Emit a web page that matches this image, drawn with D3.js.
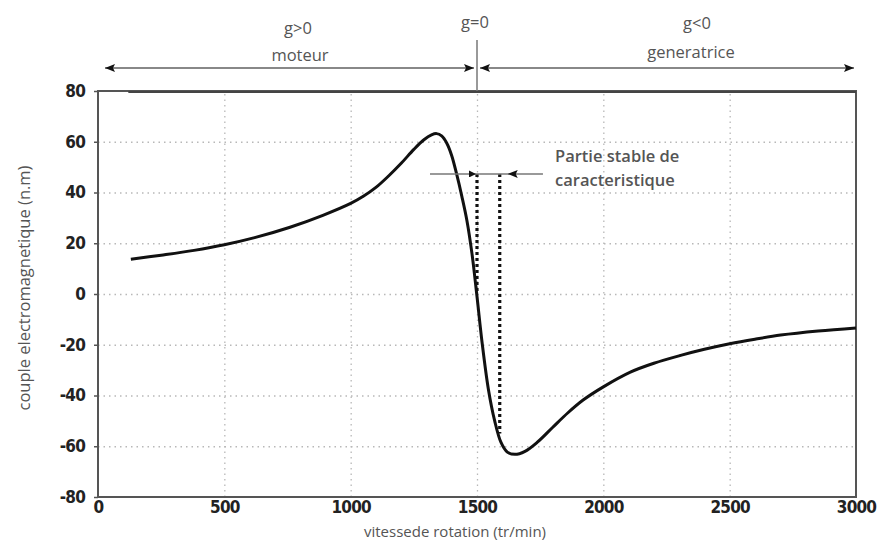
<!DOCTYPE html>
<html>
<head>
<meta charset="utf-8">
<script src="https://cdn.jsdelivr.net/npm/d3@7"></script>
<style>
  body { margin: 0; background: #fff; }
  svg { display: block; }
  .tick text { font-family: "DejaVu Sans", sans-serif; font-stretch: condensed; font-weight: bold; fill: #222; }
  .note { font-family: "Open Sans", "Noto Sans", sans-serif; fill: #555; }
</style>
</head>
<body>
<svg width="880" height="542"></svg>
<script>
// vitesse (tr/min) et couple (n.m)
const speed = [130, 250, 380, 500, 620, 760, 890, 1000, 1050, 1100, 1150, 1200, 1250, 1290, 1320, 1340, 1360, 1380, 1400, 1420, 1440, 1460, 1480, 1500, 1520, 1545, 1570, 1595, 1620, 1650, 1690, 1740, 1800, 1860, 1920, 2000, 2107, 2200, 2306, 2400, 2500, 2600, 2702, 2850, 3000];
const torque = [13.7, 15.3, 17.2, 19.4, 22.2, 26.3, 31, 35.7, 38.5, 42, 46.5, 51.5, 57, 60.8, 62.7, 63.2, 62.3, 59.5, 54.5, 47, 38.5, 29, 16, -1, -19, -37.5, -50, -58.5, -62.3, -63.2, -62, -58.3, -52.5, -46.8, -41.8, -36.6, -30.8, -27.3, -24.2, -21.8, -19.6, -17.8, -16.2, -14.6, -13.4];

const xTicks = [0, 500, 1000, 1500, 2000, 2500, 3000];
const yTicks = [-80, -60, -40, -20, 0, 20, 40, 60, 80];

// zone stable : entre g=0 et le couple max generateur
const stableSpeeds = [1500, 1590];
const stableTorque = [47.3, 0, -55];

const svg = d3.select('svg');
const x = d3.scaleLinear().domain([0, 3000]).range([98, 856]);
const y = d3.scaleLinear().domain([-80, 80]).range([497, 91]);

const defs = svg.append('defs');
defs.append('marker')
  .attr('id', 'arr')
  .attr('viewBox', '0 0 10 10')
  .attr('refX', 10).attr('refY', 5)
  .attr('markerWidth', 10).attr('markerHeight', 7)
  .attr('markerUnits', 'userSpaceOnUse')
  .attr('orient', 'auto-start-reverse')
  .append('path').attr('d', 'M0,0 L10,5 L0,10 z').attr('fill', '#111');
defs.append('marker')
  .attr('id', 'arrBig')
  .attr('viewBox', '0 0 10 10')
  .attr('refX', 10).attr('refY', 5)
  .attr('markerWidth', 20).attr('markerHeight', 10)
  .attr('markerUnits', 'userSpaceOnUse')
  .attr('orient', 'auto-start-reverse')
  .append('path').attr('d', 'M0,1 L10,5 L0,9 L2,5 z').attr('fill', '#111');

// grille
svg.append('g')
  .attr('transform', `translate(0,${y(-80)})`)
  .call(d3.axisBottom(x).tickValues(xTicks.slice(1, -1)).tickSize(-(y(-80) - y(80))).tickFormat(''))
  .call(g => g.select('.domain').remove())
  .call(g => g.selectAll('line').attr('stroke', '#b8b8b8').attr('stroke-width', 1.3).attr('stroke-dasharray', '1.5,4'));

svg.append('g')
  .attr('transform', `translate(${x(0)},0)`)
  .call(d3.axisLeft(y).tickValues(yTicks.slice(1, -1)).tickSize(-(x(3000) - x(0))).tickFormat(''))
  .call(g => g.select('.domain').remove())
  .call(g => g.selectAll('line').attr('stroke', '#b8b8b8').attr('stroke-width', 1.3).attr('stroke-dasharray', '1.5,4'));

// axes
const fmt = d => String(d);
const xAxis = svg.append('g')
  .attr('transform', `translate(0,${y(-80)})`)
  .call(d3.axisBottom(x).tickValues(xTicks).tickFormat(fmt).tickSize(0).tickPadding(4));
xAxis.select('.domain').remove();
xAxis.selectAll('text').style('font-size', '17px').attr('letter-spacing', '-0.8');

const yAxis = svg.append('g')
  .attr('transform', `translate(${x(0)},0)`)
  .call(d3.axisLeft(y).tickValues(yTicks).tickFormat(fmt).tickSize(4).tickPadding(9));
yAxis.select('.domain').remove();
yAxis.selectAll('line').attr('stroke', '#555').attr('stroke-width', 1.5);
yAxis.selectAll('text').style('font-size', '17px').attr('letter-spacing', '-0.8');

// cadre
svg.append('rect')
  .attr('x', x(0)).attr('y', y(80))
  .attr('width', x(3000) - x(0)).attr('height', y(-80) - y(80))
  .attr('fill', 'none').attr('stroke', '#555').attr('stroke-width', 2);
svg.append('line')
  .attr('x1', x(120)).attr('x2', x(3000))
  .attr('y1', y(80) + 1).attr('y2', y(80) + 1)
  .attr('stroke', '#444').attr('stroke-width', 2);

// lignes pointillees de la partie stable
svg.append('line')
  .attr('x1', x(stableSpeeds[0])).attr('x2', x(stableSpeeds[0]))
  .attr('y1', y(stableTorque[0])).attr('y2', y(stableTorque[1]))
  .attr('stroke', '#111').attr('stroke-width', 3.2).attr('stroke-dasharray', '3,3');
svg.append('line')
  .attr('x1', x(stableSpeeds[1])).attr('x2', x(stableSpeeds[1]))
  .attr('y1', y(stableTorque[0])).attr('y2', y(stableTorque[2]))
  .attr('stroke', '#111').attr('stroke-width', 3.2).attr('stroke-dasharray', '3,3');

// courbe
const line = d3.line()
  .x((d, i) => x(speed[i]))
  .y((d, i) => y(torque[i]))
  .curve(d3.curveCatmullRom.alpha(0.5));
svg.append('path')
  .datum(torque)
  .attr('d', line)
  .attr('fill', 'none')
  .attr('stroke', '#111')
  .attr('stroke-width', 3);

// fleche horizontale
const hy = y(stableTorque[0]);
svg.append('line')
  .attr('x1', x(1314)).attr('x2', x(1761)).attr('y1', hy).attr('y2', hy)
  .attr('stroke', '#777').attr('stroke-width', 1.5);
svg.append('line')
  .attr('x1', x(1410)).attr('x2', x(stableSpeeds[0]) - 1).attr('y1', hy).attr('y2', hy)
  .attr('stroke', 'none').attr('marker-end', 'url(#arr)');
svg.append('line')
  .attr('x1', x(1700)).attr('x2', x(stableSpeeds[1]) + 8).attr('y1', hy).attr('y2', hy)
  .attr('stroke', 'none').attr('marker-end', 'url(#arrBig)');

svg.append('text').attr('class', 'note')
  .attr('x', 555).attr('y', 162).style('font-size', '16.5px').style('font-weight', 600)
  .text('Partie stable de');
svg.append('text').attr('class', 'note')
  .attr('x', 555).attr('y', 186).style('font-size', '16.5px').style('font-weight', 600)
  .text('caracteristique');

// regimes en haut
const ty = 68;
svg.append('line')
  .attr('x1', 105).attr('x2', x(1500) - 3).attr('y1', ty).attr('y2', ty)
  .attr('stroke', '#888').attr('stroke-width', 2)
  .attr('marker-start', 'url(#arrBig)').attr('marker-end', 'url(#arrBig)');
svg.append('line')
  .attr('x1', x(1500) + 3).attr('x2', 854).attr('y1', ty).attr('y2', ty)
  .attr('stroke', '#888').attr('stroke-width', 2)
  .attr('marker-start', 'url(#arrBig)').attr('marker-end', 'url(#arrBig)');
svg.append('line')
  .attr('x1', x(1500)).attr('x2', x(1500)).attr('y1', 40).attr('y2', y(80))
  .attr('stroke', '#777').attr('stroke-width', 1.5);

const notes = [
  { t: 'g>0', x: 298, y: 34 },
  { t: 'moteur', x: 300, y: 61 },
  { t: 'g=0', x: 475, y: 28 },
  { t: 'g<0', x: 697, y: 29 },
  { t: 'generatrice', x: 691, y: 58 },
];
svg.selectAll('.top').data(notes).enter().append('text')
  .attr('class', 'note')
  .attr('x', d => d.x).attr('y', d => d.y)
  .attr('text-anchor', 'middle')
  .style('font-size', '16.5px')
  .text(d => d.t);

// titres des axes
svg.append('text').attr('class', 'note')
  .attr('transform', 'translate(30,288) rotate(-90)')
  .attr('text-anchor', 'middle').style('font-size', '16.5px')
  .text('couple electromagnetique (n.m)');
svg.append('text').attr('class', 'note')
  .attr('x', 455).attr('y', 537)
  .attr('text-anchor', 'middle').style('font-size', '15px')
  .text('vitessede rotation (tr/min)');
</script>
</body>
</html>
